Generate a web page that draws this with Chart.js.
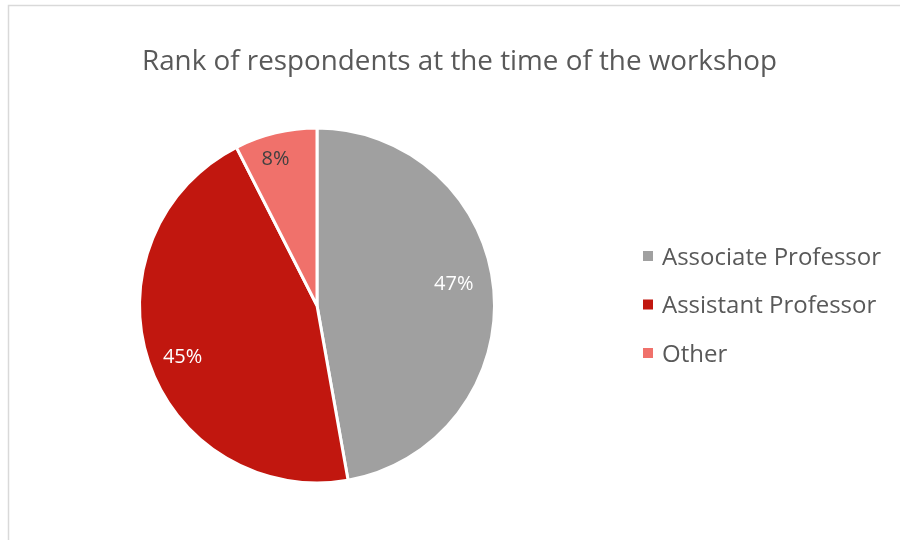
<!DOCTYPE html>
<html>
<head>
<meta charset="utf-8">
<script src="https://cdn.jsdelivr.net/npm/chart.js@4.4.1/dist/chart.umd.min.js"></script>
<style>
  html, body { margin: 0; padding: 0; background: #ffffff; }
  #wrap { width: 900px; height: 540px; position: relative; }
</style>
</head>
<body>
<div id="wrap"><canvas id="c" width="900" height="540"></canvas></div>
<script>
const chartTitle = "Rank of respondents at the time of the workshop";
const categories = ["Associate Professor", "Assistant Professor", "Other"];
const shareValues = [47.2, 45.3, 7.5];
const sliceColors = ["#A0A0A0", "#C1170F", "#F0716B"];

const FONT = "'Open Sans', 'Liberation Sans', sans-serif";

const framePlugin = {
  id: 'frame',
  beforeDraw(chart) {
    const ctx = chart.ctx;
    ctx.save();
    ctx.fillStyle = '#ffffff';
    ctx.fillRect(0, 0, chart.width, chart.height);
    ctx.strokeStyle = '#D9D9D9';
    ctx.lineWidth = 1.5;
    ctx.beginPath();
    ctx.moveTo(8.5, chart.height + 5);
    ctx.lineTo(8.5, 5.5);
    ctx.lineTo(chart.width + 5, 5.5);
    ctx.stroke();
    ctx.fillStyle = '#595959';
    ctx.font = "27.8px " + FONT;
    ctx.textAlign = 'center';
    ctx.textBaseline = 'middle';
    ctx.fillText(chartTitle, 459.5, 62);
    ctx.restore();
  }
};

const labelPlugin = {
  id: 'sliceLabels',
  afterDatasetsDraw(chart) {
    const ctx = chart.ctx;
    const meta = chart.getDatasetMeta(0);
    const ds = chart.data.datasets[0];
    const total = ds.data.reduce((a, b) => a + b, 0);
    const factors = [0.78, 0.81, 0.86];
    const shifts = [0.07, 0.04, 0.04];
    const colors = ['#FFFFFF', '#FFFFFF', '#404040'];
    ctx.save();
    ctx.font = "20px " + FONT;
    ctx.textAlign = 'center';
    ctx.textBaseline = 'middle';
    meta.data.forEach((arc, i) => {
      const p = arc.getProps(['x', 'y', 'startAngle', 'endAngle', 'outerRadius'], true);
      const mid = (p.startAngle + p.endAngle) / 2 - shifts[i];
      const r = p.outerRadius * factors[i];
      const x = p.x + Math.cos(mid) * r;
      const y = p.y + Math.sin(mid) * r + 1;
      ctx.fillStyle = colors[i];
      ctx.fillText(Math.round(ds.data[i] / total * 100) + '%', x, y);
    });
    ctx.restore();
  }
};

const legendPlugin = {
  id: 'sideLegend',
  afterDraw(chart) {
    const ctx = chart.ctx;
    const labels = chart.data.labels;
    const colors = chart.data.datasets[0].backgroundColor;
    ctx.save();
    ctx.font = "24px " + FONT;
    ctx.textBaseline = 'middle';
    labels.forEach((lab, i) => {
      const y = 256 + i * 48.5;
      ctx.fillStyle = colors[i];
      ctx.fillRect(643, y - 5, 10, 10);
      ctx.fillStyle = '#595959';
      ctx.fillText(lab, 662, y + 2);
    });
    ctx.restore();
  }
};

new Chart(document.getElementById('c'), {
  type: 'pie',
  data: {
    labels: categories,
    datasets: [{
      data: shareValues,
      backgroundColor: sliceColors,
      borderColor: '#FFFFFF',
      borderWidth: 3
    }]
  },
  options: {
    responsive: false,
    animation: false,
    layout: { padding: { left: 138, right: 404, top: 126, bottom: 55 } },
    plugins: {
      legend: { display: false },
      tooltip: { enabled: false },
      title: { display: false }
    }
  },
  plugins: [framePlugin, labelPlugin, legendPlugin]
});
</script>
</body>
</html>
